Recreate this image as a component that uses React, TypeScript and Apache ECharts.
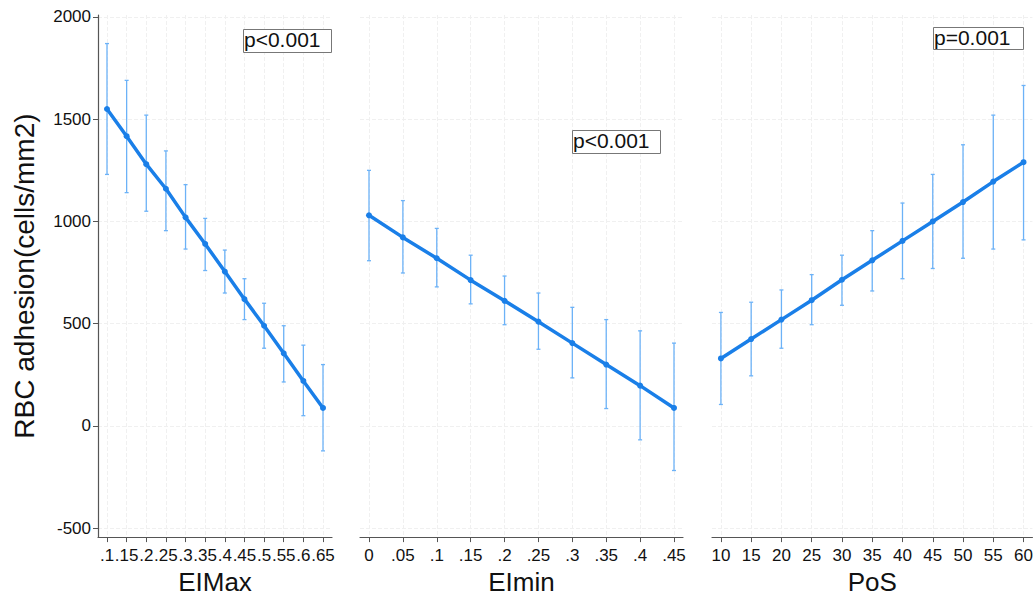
import React, { useEffect, useRef } from "react";
import * as echarts from "echarts";

// ---- data ----
const eimaxX = [0.1, 0.15, 0.2, 0.25, 0.3, 0.35, 0.4, 0.45, 0.5, 0.55, 0.6, 0.65];
const eimaxMean = [1550, 1417, 1280, 1160, 1020, 890, 755, 620, 490, 355, 220, 88];
const eimaxLo = [1230, 1141, 1050, 955, 865, 760, 650, 520, 380, 215, 50, -122];
const eimaxHi = [1870, 1690, 1520, 1345, 1180, 1015, 860, 720, 600, 490, 395, 300];

const eiminX = [0, 0.05, 0.1, 0.15, 0.2, 0.25, 0.3, 0.35, 0.4, 0.45];
const eiminMean = [1030, 922, 820, 713, 612, 510, 405, 300, 197, 88];
const eiminLo = [808, 748, 680, 597, 495, 375, 235, 85, -68, -218];
const eiminHi = [1250, 1102, 966, 835, 733, 650, 580, 520, 465, 405];

const posX = [10, 15, 20, 25, 30, 35, 40, 45, 50, 55, 60];
const posMean = [330, 425, 520, 615, 715, 810, 905, 1000, 1095, 1195, 1290];
const posLo = [105, 245, 380, 495, 590, 660, 720, 770, 820, 865, 910];
const posHi = [555, 605, 665, 740, 835, 955, 1090, 1230, 1375, 1520, 1665];

const yTicks = [-500, 0, 500, 1000, 1500, 2000];
const pLabels = ["p<0.001", "p<0.001", "p=0.001"];
const xNames = ["EIMax", "EImin", "PoS"];
const yName = "RBC adhesion(cells/mm2)";

const LINE = "#1a7fe8";
const ERR = "#6cb2f7";
const AXIS = "#555";
const FONT = "Liberation Sans, Arial, sans-serif";

const fmt = (v: number) => {
  const s = String(Math.round(v * 1000) / 1000);
  return s.startsWith("0.") ? s.slice(1) : s;
};

export default function App() {
  const ref = useRef<HTMLDivElement>(null);
  useEffect(() => {
    if (!ref.current) return;
    const chart = echarts.init(ref.current, null, { renderer: "svg" });

    const grids = [
      { left: 98, width: 234 },
      { left: 360, width: 323 },
      { left: 712, width: 324 },
    ];
    const top = 15;
    const height = 526;
    const yMin = -543.7;
    const yMax = 2009.7;
    const pad = 9;

    const panels = [
      { x: eimaxX, m: eimaxMean, lo: eimaxLo, hi: eimaxHi },
      { x: eiminX, m: eiminMean, lo: eiminLo, hi: eiminHi },
      { x: posX, m: posMean, lo: posLo, hi: posHi },
    ];

    const xAxis = panels.map((p, i) => {
      const first = p.x[0];
      const last = p.x[p.x.length - 1];
      const unit = (last - first) / (grids[i].width - 2 * pad);
      return {
        type: "value",
        gridIndex: i,
        min: first - pad * unit,
        max: last + pad * unit,
        name: xNames[i],
        nameLocation: "middle",
        nameGap: 30,
        nameTextStyle: { fontSize: 26, color: "#111", fontFamily: FONT },
        axisLine: { show: true, onZero: false, lineStyle: { color: AXIS, width: 1.2 } },
        axisTick: { show: true, length: 5, customValues: p.x, lineStyle: { color: AXIS } },
        axisLabel: {
          customValues: p.x,
          formatter: fmt,
          fontSize: 17,
          color: "#111",
          fontFamily: FONT,
          margin: 10,
          hideOverlap: false,
        },
        splitLine: {
          show: true,
          customValues: p.x,
          lineStyle: { color: "#f0f0f0", type: "dashed", width: 1 },
        },
      };
    });

    const yAxis = panels.map((_, i) => ({
      type: "value",
      gridIndex: i,
      min: yMin,
      max: yMax,
      name: i === 0 ? yName : "",
      nameLocation: "middle",
      nameGap: 60,
      nameTextStyle: { fontSize: 28, color: "#111", fontFamily: FONT },
      axisLine: { show: i === 0, onZero: false, lineStyle: { color: AXIS, width: 1.2 } },
      axisTick: { show: i === 0, length: 5, customValues: yTicks, lineStyle: { color: AXIS } },
      axisLabel: {
        show: i === 0,
        customValues: yTicks,
        formatter: (v: number) => String(v),
        fontSize: 17,
        color: "#111",
        fontFamily: FONT,
        margin: 7,
      },
      splitLine: {
        show: true,
        customValues: yTicks,
        lineStyle: { color: "#f0f0f0", type: "dashed", width: 1 },
      },
    }));

    const series: any[] = [];
    panels.forEach((p, i) => {
      series.push({
        type: "custom",
        xAxisIndex: i,
        yAxisIndex: i,
        z: 2,
        data: p.x.map((x, k) => [x, p.lo[k], p.hi[k]]),
        renderItem: (_params: any, api: any) => {
          const x = api.value(0);
          const a = api.coord([x, api.value(1)]);
          const b = api.coord([x, api.value(2)]);
          const c = 2;
          const style = { stroke: ERR, lineWidth: 1.3 };
          return {
            type: "group",
            children: [
              { type: "line", shape: { x1: a[0], y1: a[1], x2: b[0], y2: b[1] }, style },
              { type: "line", shape: { x1: a[0] - c, y1: a[1], x2: a[0] + c, y2: a[1] }, style },
              { type: "line", shape: { x1: b[0] - c, y1: b[1], x2: b[0] + c, y2: b[1] }, style },
            ],
          };
        },
      });
      series.push({
        type: "line",
        xAxisIndex: i,
        yAxisIndex: i,
        z: 3,
        data: p.x.map((x, k) => [x, p.m[k]]),
        symbol: "circle",
        symbolSize: 6,
        showSymbol: true,
        lineStyle: { color: LINE, width: 3.5 },
        itemStyle: { color: LINE },
      });
    });

    const boxes = [
      { left: 243, top: 29, w: 88, h: 23 },
      { left: 572, top: 130, w: 88, h: 23 },
      { left: 933, top: 27, w: 90, h: 22 },
    ];
    const graphic: any[] = [];
    boxes.forEach((b, i) => {
      graphic.push({
        type: "rect",
        left: b.left,
        top: b.top,
        shape: { width: b.w, height: b.h },
        style: { fill: "#fff", stroke: "#777", lineWidth: 1 },
        z: 10,
      });
      graphic.push({
        type: "text",
        left: b.left + 1,
        top: b.top,
        style: { text: pLabels[i], fontSize: 21, fill: "#111", fontFamily: FONT },
        z: 11,
      });
    });

    chart.setOption({
      animation: false,
      backgroundColor: "#fff",
      grid: grids.map((g) => ({ left: g.left, width: g.width, top, height, containLabel: false })),
      xAxis,
      yAxis,
      series,
      graphic,
    });
    return () => chart.dispose();
  }, []);
  return (
    <div
      ref={ref}
      style={{ position: "fixed", left: 0, top: 0, width: 1036, height: 600, background: "#fff" }}
    />
  );
}
